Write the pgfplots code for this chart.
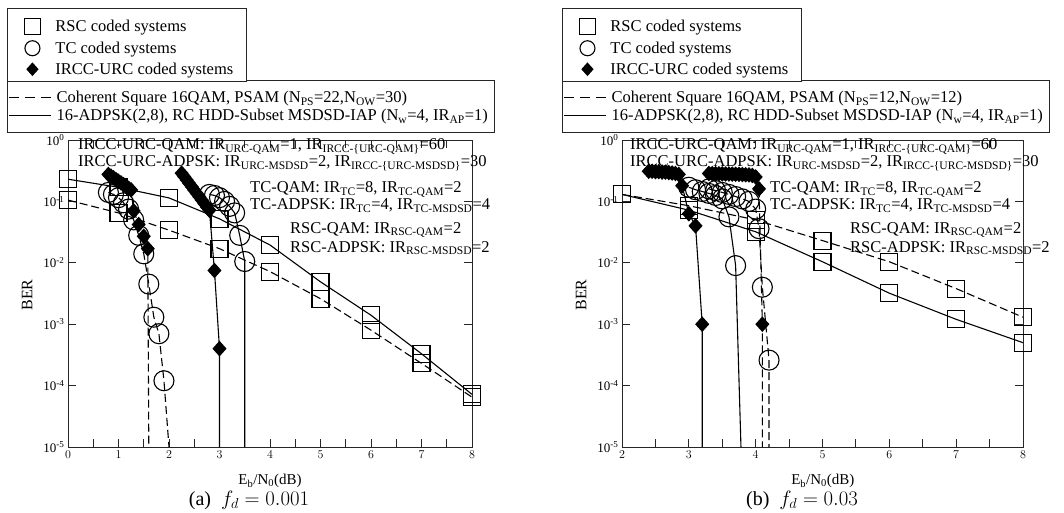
\documentclass[border=0pt]{standalone}
\usepackage{fontspec}
\setmainfont{Liberation Serif}
\usepackage{pgfplots}
\pgfplotsset{compat=1.18}

\newcommand{\legfont}{\fontsize{16.5}{18}\selectfont}
\newcommand{\annfont}{\fontsize{16.5}{18}\selectfont}

\pgfplotsset{
  rscmark/.style={mark=square, mark size=8.5pt},
  tcmark/.style={mark=o, mark size=10pt},
  irccmark/.style={mark=diamond*, mark size=7pt, every mark/.append style={xscale=1.2}},
  qamline/.style={dash pattern=on 8pt off 4pt, every mark/.append style={solid}},
  adpskline/.style={solid},
}

\begin{document}
\begin{tikzpicture}[x=1pt,y=1pt]
\useasboundingbox (0,0) rectangle (1064,512);

% ---------------- (a) f_d = 0.001 ----------------
\begin{axis}[scale only axis, height=307pt, width=404pt,
  at={(68pt,65pt)}, anchor=south west,
  ymode=log, ymin=1e-5, ymax=1,
  ytick={1e-5,1e-4,1e-3,1e-2,1e-1,1},
  yticklabels={10\textsuperscript{-5},10\textsuperscript{-4},10\textsuperscript{-3},10\textsuperscript{-2},10\textsuperscript{-1},10\textsuperscript{0}},
  yminorticks=false,
  xmin=0, xmax=8, xtick={0,...,8}, minor x tick num=1,
  tick align=inside, xtick pos=both, ytick pos=both,
  major tick length=8pt, minor tick length=8pt,
  tick label style={font=\fontsize{13}{14}\selectfont},
  axis line style={line width=0.9pt, black!85},
  every tick/.style={black!85, line width=0.9pt},
  xlabel={E\textsubscript{b}/N\textsubscript{0}(dB)},
  ylabel={BER},
  xlabel style={font=\fontsize{15}{16}\selectfont, anchor=center, at={(axis description cs:0.5,-0.111)}},
  ylabel style={font=\fontsize{16}{17}\selectfont, anchor=center, at={(axis description cs:-0.101,0.495)}},
  every axis plot/.append style={black, line width=1.1pt}]
% RSC-QAM
\addplot[rscmark, qamline] coordinates {(0,0.105)(1,0.065)(2,0.034)(3,0.017)(4,0.0072)(5,0.0026)(6,0.0008)(7,0.00023)(8,0.000065)};
% RSC-ADPSK
\addplot[rscmark, adpskline] coordinates {(0,0.23)(1,0.17)(2,0.114)(3,0.052)(4,0.0195)(5,0.0049)(6,0.0014)(7,0.00033)(8,0.000072)};
% TC-QAM
\addplot[tcmark, qamline, mark indices={1,2,3,4,5,6,7,8,9,10,11,12}] coordinates {(0.8,0.14)(0.9,0.13)(1.0,0.115)(1.1,0.095)(1.2,0.075)(1.3,0.05)(1.4,0.028)(1.5,0.014)(1.6,0.0045)(1.7,0.0013)(1.8,0.0007)(1.9,0.00012)(2.0,0.00001)};
% TC-ADPSK
\addplot[tcmark, adpskline, mark indices={1,2,3,4,5,6,7,8}] coordinates {(2.8,0.13)(2.9,0.125)(3.0,0.115)(3.1,0.1)(3.2,0.083)(3.3,0.065)(3.4,0.028)(3.5,0.0105)(3.5,0.00001)};
% IRCC-URC-QAM
\addplot[irccmark, qamline, mark indices={1,2,3,4,5,6,7,8,9,10,11,12,13,14}] coordinates {(0.80,0.275)(0.85,0.258)(0.90,0.242)(0.95,0.227)(1.00,0.213)(1.05,0.2)(1.10,0.187)(1.15,0.175)(1.20,0.164)(1.25,0.154)(1.3,0.07)(1.4,0.042)(1.5,0.027)(1.58,0.017)(1.6,0.00001)};
% IRCC-URC-ADPSK
\addplot[irccmark, adpskline, mark indices={1,2,3,4,5,6,7,8,9,10,11,12,13,14}] coordinates {(2.25,0.288)(2.30,0.254)(2.35,0.224)(2.40,0.197)(2.45,0.174)(2.50,0.153)(2.55,0.135)(2.60,0.119)(2.65,0.105)(2.70,0.092)(2.75,0.081)(2.80,0.072)(2.9,0.0075)(3.0,0.0004)(3.0,0.00001)};
\end{axis}

\begin{axis}[scale only axis, height=307pt, width=404pt, at={(68pt,65pt)}, anchor=south west,
  hide axis, xmin=0, xmax=1, ymin=0, ymax=1, legend cell align=left,
  legend image code/.code={\path[draw=none, fill=none] (0pt,-9pt) rectangle (42pt,9pt);
    \draw[#1, line width=1.1pt] (0pt,0pt) -- (42pt,0pt);},
  legend style={at={(axis description cs:-0.151,1.195)}, anchor=north west,
    draw=black!85, line width=0.9pt, fill=white, font=\legfont,
    inner xsep=1pt, inner ysep=8pt, row sep=0pt,
    nodes={inner xsep=5pt, inner ysep=0pt}}]
\addlegendimage{dash pattern=on 10pt off 6pt}
\addlegendentry{Coherent Square 16QAM, PSAM (N\textsubscript{PS}=22,N\textsubscript{OW}=30)}
\addlegendimage{solid}
\addlegendentry{16-ADPSK(2,8), RC HDD-Subset MSDSD-IAP (N\textsubscript{w}=4, IR\textsubscript{AP}=1)}
\end{axis}

\begin{axis}[scale only axis, height=307pt, width=404pt, at={(68pt,65pt)}, anchor=south west,
  hide axis, xmin=0, xmax=1, ymin=0, ymax=1, legend cell align=left,
  legend image code/.code={\path[draw=none, fill=none] (-17pt,-7.5pt) rectangle (18pt,13.5pt);
    \draw[#1, line width=1.1pt] plot coordinates {(0pt,0pt)};},
  legend style={at={(axis description cs:-0.151,1.430)}, anchor=north west,
    draw=black!85, line width=0.9pt, fill=white, font=\legfont,
    inner xsep=8pt, inner ysep=4.5pt, row sep=0pt,
    nodes={inner xsep=5pt, inner ysep=0pt}}]
\addlegendimage{rscmark, mark size=8.3pt}
\addlegendentry{RSC coded systems}
\addlegendimage{tcmark, mark size=7.5pt}
\addlegendentry{TC coded systems}
\addlegendimage{irccmark, mark size=6pt}
\addlegendentry{IRCC-URC coded systems}
\end{axis}

\begin{scope}[font=\annfont]
\node[anchor=base west, inner sep=0pt] at (78,362) {IRCC-URC-QAM: IR\textsubscript{URC-QAM}=1, IR\textsubscript{IRCC-\{URC-QAM\}}=60};
\node[anchor=base west, inner sep=0pt] at (78,345) {IRCC-URC-ADPSK: IR\textsubscript{URC-MSDSD}=2, IR\textsubscript{IRCC-\{URC-MSDSD\}}=30};
\node[anchor=base west, inner sep=0pt] at (250,319) {TC-QAM: IR\textsubscript{TC}=8, IR\textsubscript{TC-QAM}=2};
\node[anchor=base west, inner sep=0pt] at (250,302) {TC-ADPSK: IR\textsubscript{TC}=4, IR\textsubscript{TC-MSDSD}=4};
\node[anchor=base west, inner sep=0pt] at (290,279) {RSC-QAM: IR\textsubscript{RSC-QAM}=2};
\node[anchor=base west, inner sep=0pt] at (290,260) {RSC-ADPSK: IR\textsubscript{RSC-MSDSD}=2};
\end{scope}
\node[font=\fontsize{20}{22}\selectfont] at (249,12) {(a)\ \ $f_d = 0.001$};

% ---------------- (b) f_d = 0.03 ----------------
\begin{axis}[scale only axis, height=307pt, width=401pt,
  at={(622pt,65pt)}, anchor=south west,
  ymode=log, ymin=1e-5, ymax=1,
  ytick={1e-5,1e-4,1e-3,1e-2,1e-1,1},
  yticklabels={10\textsuperscript{-5},10\textsuperscript{-4},10\textsuperscript{-3},10\textsuperscript{-2},10\textsuperscript{-1},10\textsuperscript{0}},
  yminorticks=false,
  xmin=2, xmax=8, xtick={2,...,8}, minor x tick num=1,
  tick align=inside, xtick pos=both, ytick pos=both,
  major tick length=8pt, minor tick length=8pt,
  tick label style={font=\fontsize{13}{14}\selectfont},
  axis line style={line width=0.9pt, black!85},
  every tick/.style={black!85, line width=0.9pt},
  xlabel={E\textsubscript{b}/N\textsubscript{0}(dB)},
  ylabel={BER},
  xlabel style={font=\fontsize{15}{16}\selectfont, anchor=center, at={(axis description cs:0.501,-0.111)}},
  ylabel style={font=\fontsize{16}{17}\selectfont, anchor=center, at={(axis description cs:-0.102,0.495)}},
  every axis plot/.append style={black, line width=1.1pt}]
% RSC-QAM
\addplot[rscmark, qamline] coordinates {(2,0.13)(3,0.085)(4,0.05)(5,0.023)(6,0.0104)(7,0.0038)(8,0.0013)};
% RSC-ADPSK
\addplot[rscmark, adpskline] coordinates {(2,0.13)(3,0.072)(4,0.032)(5,0.0104)(6,0.0032)(7,0.0012)(8,0.0005)};
% TC-QAM
\addplot[tcmark, qamline, mark indices={1,2,3,4,5,6,7,8,9,10,11}] coordinates {(3.3,0.16)(3.4,0.15)(3.5,0.14)(3.6,0.13)(3.7,0.12)(3.8,0.11)(3.9,0.1)(4.0,0.075)(4.05,0.036)(4.1,0.004)(4.2,0.00026)(4.2,0.00001)};
% TC-ADPSK
\addplot[tcmark, adpskline, mark indices={1,2,3,4,5,6,7,8}] coordinates {(3.0,0.17)(3.1,0.155)(3.2,0.145)(3.3,0.135)(3.4,0.125)(3.5,0.11)(3.6,0.056)(3.7,0.009)(3.78,0.00001)};
% IRCC-URC-QAM
\addplot[irccmark, qamline, mark indices={1,2,3,4,5,6,7,8,9,10,11,12,13,14,15,16,17}] coordinates {(3.30,0.285)(3.35,0.284)(3.40,0.283)(3.45,0.282)(3.50,0.281)(3.55,0.28)(3.60,0.279)(3.65,0.278)(3.70,0.277)(3.75,0.276)(3.80,0.274)(3.85,0.272)(3.90,0.27)(3.95,0.265)(4.00,0.25)(4.05,0.16)(4.1,0.001)(4.1,0.00001)};
% IRCC-URC-ADPSK
\addplot[irccmark, adpskline, mark indices={1,2,3,4,5,6,7,8,9,10,11,12,13,14}] coordinates {(2.40,0.31)(2.45,0.31)(2.50,0.305)(2.55,0.305)(2.60,0.3)(2.65,0.3)(2.70,0.295)(2.75,0.29)(2.80,0.285)(2.85,0.275)(2.9,0.18)(3.0,0.063)(3.1,0.04)(3.2,0.001)(3.2,0.00001)};
\end{axis}

\begin{axis}[scale only axis, height=307pt, width=401pt, at={(622pt,65pt)}, anchor=south west,
  hide axis, xmin=0, xmax=1, ymin=0, ymax=1, legend cell align=left,
  legend image code/.code={\path[draw=none, fill=none] (0pt,-9pt) rectangle (42pt,9pt);
    \draw[#1, line width=1.1pt] (0pt,0pt) -- (42pt,0pt);},
  legend style={at={(axis description cs:-0.1496,1.195)}, anchor=north west,
    draw=black!85, line width=0.9pt, fill=white, font=\legfont,
    inner xsep=1pt, inner ysep=8pt, row sep=0pt,
    nodes={inner xsep=5pt, inner ysep=0pt}}]
\addlegendimage{dash pattern=on 10pt off 6pt}
\addlegendentry{Coherent Square 16QAM, PSAM (N\textsubscript{PS}=12,N\textsubscript{OW}=12)}
\addlegendimage{solid}
\addlegendentry{16-ADPSK(2,8), RC HDD-Subset MSDSD-IAP (N\textsubscript{w}=4, IR\textsubscript{AP}=1)}
\end{axis}

\begin{axis}[scale only axis, height=307pt, width=401pt, at={(622pt,65pt)}, anchor=south west,
  hide axis, xmin=0, xmax=1, ymin=0, ymax=1, legend cell align=left,
  legend image code/.code={\path[draw=none, fill=none] (-17pt,-7.5pt) rectangle (18pt,13.5pt);
    \draw[#1, line width=1.1pt] plot coordinates {(0pt,0pt)};},
  legend style={at={(axis description cs:-0.1496,1.430)}, anchor=north west,
    draw=black!85, line width=0.9pt, fill=white, font=\legfont,
    inner xsep=8pt, inner ysep=4.5pt, row sep=0pt,
    nodes={inner xsep=5pt, inner ysep=0pt}}]
\addlegendimage{rscmark, mark size=8.3pt}
\addlegendentry{RSC coded systems}
\addlegendimage{tcmark, mark size=7.5pt}
\addlegendentry{TC coded systems}
\addlegendimage{irccmark, mark size=6pt}
\addlegendentry{IRCC-URC coded systems}
\end{axis}

\begin{scope}[font=\annfont]
\node[anchor=base west, inner sep=0pt] at (630,362) {IRCC-URC-QAM: IR\textsubscript{URC-QAM}=1, IR\textsubscript{IRCC-\{URC-QAM\}}=60};
\node[anchor=base west, inner sep=0pt] at (630,345) {IRCC-URC-ADPSK: IR\textsubscript{URC-MSDSD}=2, IR\textsubscript{IRCC-\{URC-MSDSD\}}=30};
\node[anchor=base west, inner sep=0pt] at (770,319) {TC-QAM: IR\textsubscript{TC}=8, IR\textsubscript{TC-QAM}=2};
\node[anchor=base west, inner sep=0pt] at (770,302) {TC-ADPSK: IR\textsubscript{TC}=4, IR\textsubscript{TC-MSDSD}=4};
\node[anchor=base west, inner sep=0pt] at (850,279) {RSC-QAM: IR\textsubscript{RSC-QAM}=2};
\node[anchor=base west, inner sep=0pt] at (850,260) {RSC-ADPSK: IR\textsubscript{RSC-MSDSD}=2};
\end{scope}
\node[font=\fontsize{20}{22}\selectfont] at (802,12) {(b)\ \ $f_d = 0.03$};

\end{tikzpicture}
\end{document}
